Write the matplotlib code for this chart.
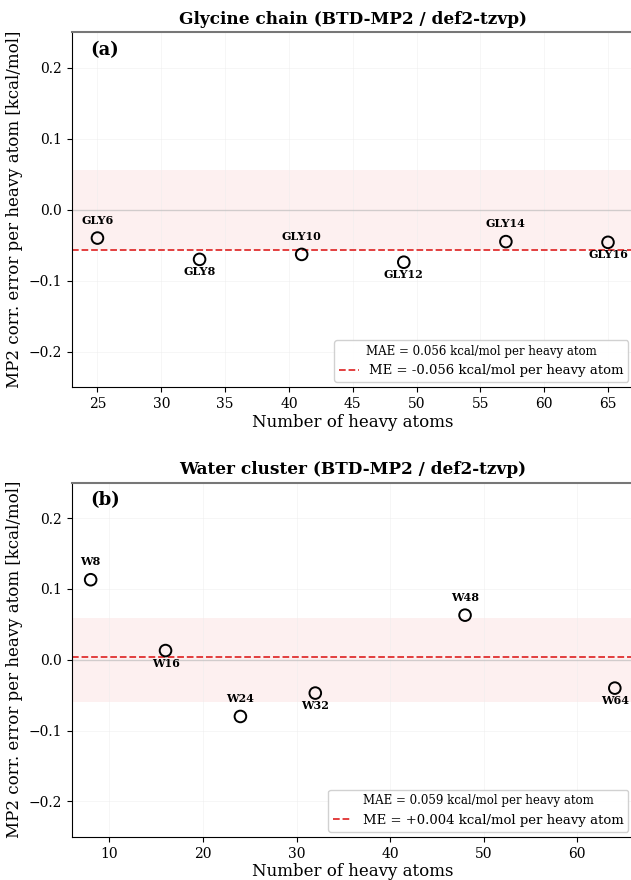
import matplotlib
matplotlib.use("Agg")
import matplotlib.pyplot as plt
import numpy as np

plt.rcParams["font.family"] = "DejaVu Serif"

# glycine chain
gly_n = [25, 33, 41, 49, 57, 65]
gly_err = [-0.040, -0.070, -0.063, -0.074, -0.045, -0.046]
gly_lab = ["GLY6", "GLY8", "GLY10", "GLY12", "GLY14", "GLY16"]

# water cluster
w_n = [8, 16, 24, 32, 48, 64]
w_err = [0.113, 0.013, -0.080, -0.047, 0.063, -0.040]
w_lab = ["W8", "W16", "W24", "W32", "W48", "W64"]

panels = [
    ("Glycine chain (BTD-MP2 / def2-tzvp)", "(a)", gly_n, gly_err, gly_lab, (23, 67)),
    ("Water cluster (BTD-MP2 / def2-tzvp)", "(b)", w_n, w_err, w_lab, (6, 66)),
]

fig = plt.figure(figsize=(6.31, 8.8), dpi=100)
boxes = [[0.114, 0.560, 0.89, 0.4035], [0.114, 0.049, 0.89, 0.4025]]

for (title, tag, xs, ys, labs, xl), box in zip(panels, boxes):
    ax = fig.add_axes(box)
    ys = np.array(ys)
    me = ys.mean()
    mae = np.abs(ys).mean()

    ax.axhspan(-mae, mae, color="#fde6e6", alpha=0.6, lw=0, zorder=0)
    ax.axhline(0, color="gray", lw=1, alpha=0.3, zorder=1)
    ax.axhline(me, color="#e03030", ls="--", lw=1.3, zorder=2,
               label=f"ME = {me:+.3f} kcal/mol per heavy atom" if me > 0
               else f"ME = {me:.3f} kcal/mol per heavy atom")
    ax.scatter(xs, ys, s=70, facecolors="none", edgecolors="black", lw=1.4, zorder=3)

    for i, (x, y, t) in enumerate(zip(xs, ys, labs)):
        if i % 2 == 0:
            ax.annotate(t, (x, y), xytext=(0, 9), textcoords="offset points",
                        ha="center", va="bottom", fontsize=8, fontweight="bold")
        else:
            ax.annotate(t, (x, y), xytext=(0, -5), textcoords="offset points",
                        ha="center", va="top", fontsize=8, fontweight="bold")

    ax.text(0.032, 0.975, tag, transform=ax.transAxes, fontsize=13,
            fontweight="bold", va="top")
    ax.set_xlim(xl)
    ax.set_ylim(-0.25, 0.25)
    ax.set_yticks([-0.2, -0.1, 0.0, 0.1, 0.2])
    ax.grid(True, color="#eeeeee", lw=0.6, alpha=0.6)
    ax.set_axisbelow(True)
    ax.set_title(title, fontsize=12.2, fontweight="bold")
    ax.set_xlabel("Number of heavy atoms", fontsize=12, labelpad=2)
    ax.set_ylabel("MP2 corr. error per heavy atom [kcal/mol]", fontsize=12)
    ax.tick_params(labelsize=10)
    ax.spines["right"].set_visible(False)
    ax.spines["top"].set_color("#777777")
    ax.spines["top"].set_linewidth(1.5)

    leg = ax.legend(loc="lower right", fontsize=9.5,
                    title=f"MAE = {mae:.3f} kcal/mol per heavy atom",
                    title_fontsize=8.5, framealpha=0.9, borderaxespad=0.4,
                    handlelength=1.5, borderpad=0.35)
    leg.get_frame().set_edgecolor("#cccccc")

fig.savefig("out.png", dpi=100)
